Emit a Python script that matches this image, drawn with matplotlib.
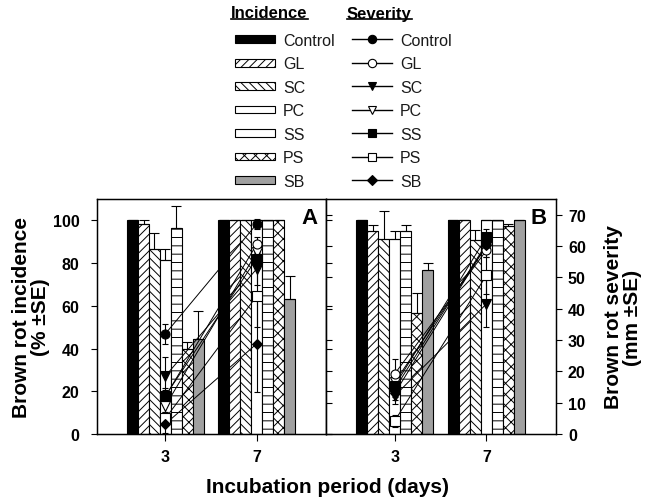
import matplotlib
matplotlib.use('Agg')
import matplotlib.pyplot as plt
import numpy as np
from matplotlib.patches import Patch
from matplotlib.lines import Line2D

plt.rcParams['font.family'] = ['Liberation Sans', 'DejaVu Sans']
plt.rcParams['hatch.linewidth'] = 0.7

# ---------------- data ----------------
treatments = ['Control', 'GL', 'SC', 'PC', 'SS', 'PS', 'SB']
days = ['3', '7']

# Incidence (%), panel A
incA_d3 = [100, 98.5, 86.5, 81.5, 96.5, 40, 44.5]
incA_e3 = [0, 1.5, 7.5, 5, 10, 3, 13]
incA_d7 = [100, 100, 100, 100, 100, 100, 63]
incA_e7 = [0, 0, 0, 0, 0, 0, 11]
# Incidence (%), panel B
incB_d3 = [100, 95, 91.5, 91.5, 95, 56.5, 77]
incB_e3 = [0, 3, 13, 3.5, 3, 9.5, 3]
incB_d7 = [100, 100, 91, 100, 100, 97.5, 100]
incB_e7 = [0, 0, 4.5, 0, 0, 1, 0]

# Severity (mm), panel A
sevA_d3 = [32, 12, 18.5, 9, 12.2, 5, 3.2]
sevA_e3 = [3.2, 2, 6, 2, 2.5, 2, 3]
sevA_d7 = [67, 60.5, 52.7, 58, 56, 44, 28.8]
sevA_e7 = [1.5, 2.5, 5, 2, 3, 10, 15.4]
# Severity (mm), panel B
sevB_d3 = [14.4, 19.2, 12.2, 16.5, 15.4, 4.2, 13]
sevB_e3 = [2.5, 4.8, 2.5, 2, 2.5, 2, 2]
sevB_d7 = [60.7, 58.6, 41.5, 60, 62.8, 50.6, 60.2]
sevB_e7 = [2, 2, 7.5, 2, 2.7, 6, 2]

inc_ticks = [0, 20, 40, 60, 80, 100]
sev_ticks = [0, 10, 20, 30, 40, 50, 60, 70]

# ---------------- styles ----------------
bar_colors = ['black', 'white', 'white', 'white', 'white', 'white', '#a0a0a0']
bar_hatches = [None, '////', '\\\\\\\\', None, '--', 'xxx', None]
markers = ['o', 'o', 'v', 'v', 's', 's', 'D']
mfcs = ['black', 'white', 'black', 'white', 'black', 'white', 'black']
draw_order = [3, 5, 1, 6, 2, 4, 0]

W, H = 645, 502
fig = plt.figure(figsize=(W / 100, H / 100), dpi=100)


def fx(px):
    return px / W


def fy(py):
    return 1 - py / H


axA = fig.add_axes([fx(97), fy(435), fx(326) - fx(97), fy(200) - fy(435)])
axB = fig.add_axes([fx(326), fy(435), fx(556) - fx(326), fy(200) - fy(435)])

x = np.arange(len(days))
bw = 0.12
XLIM = (-0.75, 1.76)


def draw_bars(ax, d3, e3, d7, e7):
    for i, t in enumerate(treatments):
        vals = [d3[i], d7[i]]
        errs = [[0, 0], [e3[i], e7[i]]]
        ax.bar(x + (i - 3) * bw, vals, width=bw, color=bar_colors[i],
               hatch=bar_hatches[i], edgecolor='black', linewidth=0.8,
               yerr=errs, capsize=3.5, zorder=2,
               error_kw=dict(elinewidth=0.8, capthick=0.8, ecolor='black'))
    ax.set_xlim(*XLIM)
    ax.set_ylim(0, 110)
    ax.set_xticks(x)
    ax.set_xticklabels(days, fontsize=11.5, fontweight='bold')
    ax.tick_params(axis='x', direction='out', length=5, width=0.8, pad=6)


def draw_sev(sax, d3, e3, d7, e7):
    for i in range(len(treatments)):
        sax.plot(x, [d3[i], d7[i]], color='black', lw=0.7, zorder=3)
    for i in draw_order:
        sax.errorbar(x, [d3[i], d7[i]], yerr=[e3[i], e7[i]], fmt=markers[i],
                     ms=6.5 if markers[i] != 'D' else 5.5, mfc=mfcs[i], mec='black',
                     mew=0.8, ecolor='black', elinewidth=0.8, capsize=2.5,
                     linestyle='none', zorder=4)
    sax.set_ylim(0, 75)
    sax.set_xlim(*XLIM)


draw_bars(axA, incA_d3, incA_e3, incA_d7, incA_e7)
draw_bars(axB, incB_d3, incB_e3, incB_d7, incB_e7)

for ax in (axA, axB):
    for s in ax.spines.values():
        s.set_linewidth(1.0)

axA.set_yticks(inc_ticks)
axA.set_yticklabels([str(v) for v in inc_ticks], fontsize=11.5, fontweight='bold')
axA.tick_params(axis='y', direction='out', length=4.5, width=0.8, pad=8)

axB.set_yticks(inc_ticks)
axB.tick_params(axis='y', direction='in', length=4, width=0.8, labelleft=False)

sA = axA.twinx()
sB = axB.twinx()
draw_sev(sA, sevA_d3, sevA_e3, sevA_d7, sevA_e7)
draw_sev(sB, sevB_d3, sevB_e3, sevB_d7, sevB_e7)

sA.set_yticks(sev_ticks)
sA.tick_params(axis='y', direction='out', length=4, width=0.8, labelright=False)
sB.set_yticks(sev_ticks)
sB.set_yticklabels([str(v) for v in sev_ticks], fontsize=11.5, fontweight='bold')
sB.tick_params(axis='y', direction='out', length=4.3, width=0.8, pad=4.3)

axA.text(0.965, 0.965, 'A', transform=axA.transAxes, ha='right', va='top',
         fontsize=16, fontweight='bold', zorder=6)
axB.text(0.96, 0.965, 'B', transform=axB.transAxes, ha='right', va='top',
         fontsize=16, fontweight='bold', zorder=6)

axA.set_ylabel('Brown rot incidence\n(% \u00b1SE)', fontsize=15, fontweight='bold',
               linespacing=1.0)
axA.yaxis.set_label_coords((50 - 97) / 229, 0.5)
sB.set_ylabel('Brown rot severity\n(mm \u00b1SE)', fontsize=15, fontweight='bold',
              linespacing=1.0, rotation=90)
sB.yaxis.set_label_coords((604 - 326) / 230, 0.5)

fig.text(fx(328), fy(488), 'Incubation period (days)', ha='center', va='center',
         fontsize=15, fontweight='bold')

# ---------------- legends ----------------
inc_handles = [Patch(facecolor=bar_colors[i], edgecolor='black', hatch=bar_hatches[i],
                     linewidth=0.8) for i in range(len(treatments))]
sev_handles = [Line2D([], [], color='black', lw=1.0, marker=markers[i],
                      ms=6 if markers[i] != 'D' else 5, mfc=mfcs[i], mec='black',
                      mew=0.8) for i in range(len(treatments))]

common = dict(loc='upper left', frameon=False, fontsize=11.5, handlelength=2.5,
              handletextpad=0.5, labelspacing=0.53, borderpad=0, borderaxespad=0,
              labelcolor='#1a1a1a')
leg1 = fig.legend(inc_handles, treatments, bbox_to_anchor=(fx(235), fy(34)),
                  handleheight=0.35, **common)
leg2 = fig.legend(sev_handles, treatments, bbox_to_anchor=(fx(352), fy(34)),
                  handleheight=0.7, **common)

h1 = fig.text(fx(231), fy(14), 'Incidence', fontsize=12, fontweight='bold', va='center')
h2 = fig.text(fx(347), fy(14), 'Severity', fontsize=12, fontweight='bold', va='center')

fig.canvas.draw()
renderer = fig.canvas.get_renderer()
inv = fig.transFigure.inverted()
for h in (h1, h2):
    bb = h.get_window_extent(renderer)
    (x0, y0), (x1, y1) = inv.transform([(bb.x0, bb.y0), (bb.x1, bb.y1)])
    yl = y0 + 1.5 / H
    fig.add_artist(Line2D([x0, x1], [yl, yl], transform=fig.transFigure,
                          color='black', lw=1.2))

fig.savefig('out.png', dpi=100)
